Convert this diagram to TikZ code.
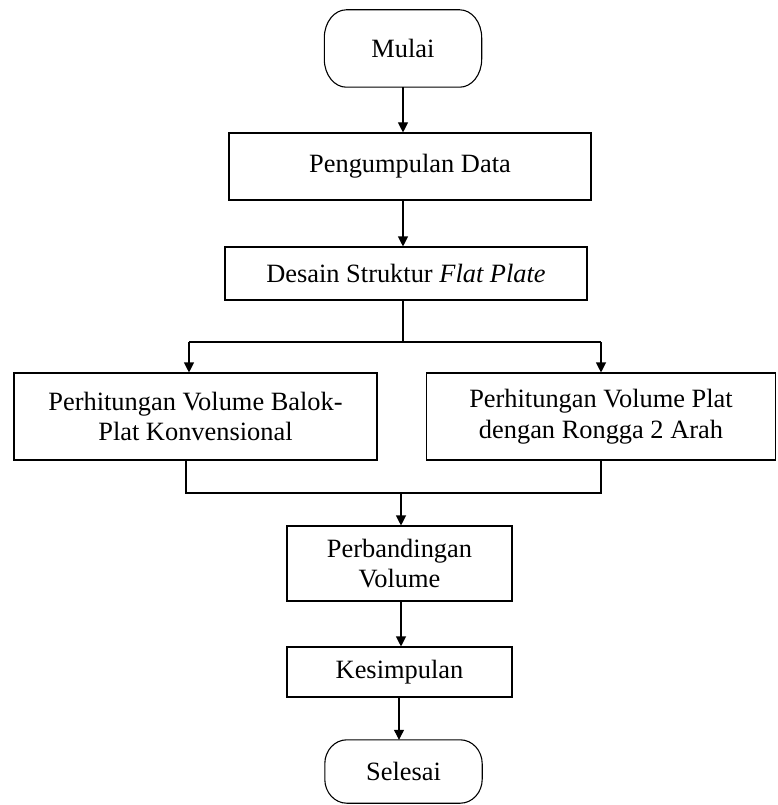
\documentclass[tikz,border=0pt]{standalone}
\usepackage{fontspec}
\setmainfont{Liberation Serif}
\usetikzlibrary{arrows.meta}
\begin{document}
\begin{tikzpicture}[x=1pt,y=-1pt,
  every node/.style={font=\fontsize{26.4}{30.4}\selectfont, align=center, inner sep=0pt},
  procbox/.style={draw, line width=1.1pt, minimum width=#1},
  termbox/.style={minimum width=157pt},
  conn/.style={line width=1.1pt},
  arr/.style={conn, -{Triangle[width=10pt,length=10pt]}}]
\useasboundingbox (0,0) rectangle (777,805);
\node[termbox, minimum height=77pt] (mulai) at (403,48.5) {Mulai};
\node[procbox=362pt, minimum height=67pt] (peng) at (410,166.5) {Pengumpulan Data};
\node[procbox=362pt, minimum height=53pt] (desain) at (406,273.5) {Desain Struktur \textit{Flat Plate}};
\node[procbox=363pt, minimum height=87pt] (left) at (195.5,416.5) {Perhitungan Volume Balok-\\Plat Konvensional};
\node[procbox=349pt, minimum height=87pt] (right) at (601,416.5) {Perhitungan Volume Plat\\dengan Rongga 2 Arah};
\node[procbox=225pt, minimum height=75pt] (perb) at (399.5,563.5) {Perbandingan\\Volume};
\node[procbox=225pt, minimum height=50pt] (kes) at (399.5,672) {Kesimpulan};
\node[termbox, minimum height=63pt] (selesai) at (403.5,771.5) {Selesai};
% terminal outlines with elliptical corners
\draw[conn] ([xshift=22pt]mulai.north west) -- ([xshift=-22pt]mulai.north east)
  arc[start angle=90,end angle=0,x radius=22pt,y radius=28pt]
  -- ([yshift=28pt]mulai.south east)
  arc[start angle=0,end angle=-90,x radius=22pt,y radius=28pt]
  -- ([xshift=22pt]mulai.south west)
  arc[start angle=-90,end angle=-180,x radius=22pt,y radius=28pt]
  -- ([yshift=-28pt]mulai.north west)
  arc[start angle=180,end angle=90,x radius=22pt,y radius=28pt] -- cycle;
\draw[conn] ([xshift=22pt]selesai.north west) -- ([xshift=-22pt]selesai.north east)
  arc[start angle=90,end angle=0,x radius=22pt,y radius=24pt]
  -- ([yshift=24pt]selesai.south east)
  arc[start angle=0,end angle=-90,x radius=22pt,y radius=24pt]
  -- ([xshift=22pt]selesai.south west)
  arc[start angle=-90,end angle=-180,x radius=22pt,y radius=24pt]
  -- ([yshift=-24pt]selesai.north west)
  arc[start angle=180,end angle=90,x radius=22pt,y radius=24pt] -- cycle;
\coordinate (split) at (403,342);
\coordinate (splitL) at (189,342);
\coordinate (splitR) at (601,342);
\coordinate (mergeL) at (186,493);
\coordinate (mergeR) at (601,493);
\coordinate (merge) at (401,493);
\draw[arr] (403,0 |- mulai.south) -- (403,0 |- peng.north);
\draw[arr] (403,0 |- peng.south) -- (403,0 |- desain.north);
\draw[conn] (403,0 |- desain.south) -- (split);
\draw[conn] (splitL) -- (splitR);
\draw[arr] (splitL) -- (splitL |- left.north);
\draw[arr] (splitR) -- (splitR |- right.north);
\draw[conn] (mergeL |- left.south) -- (mergeL) -- (mergeR) -- (mergeR |- right.south);
\draw[arr] (merge) -- (merge |- perb.north);
\draw[arr] (401,0 |- perb.south) -- (401,0 |- kes.north);
\draw[arr] (399,0 |- kes.south) -- (399,0 |- selesai.north);
\end{tikzpicture}
\end{document}
